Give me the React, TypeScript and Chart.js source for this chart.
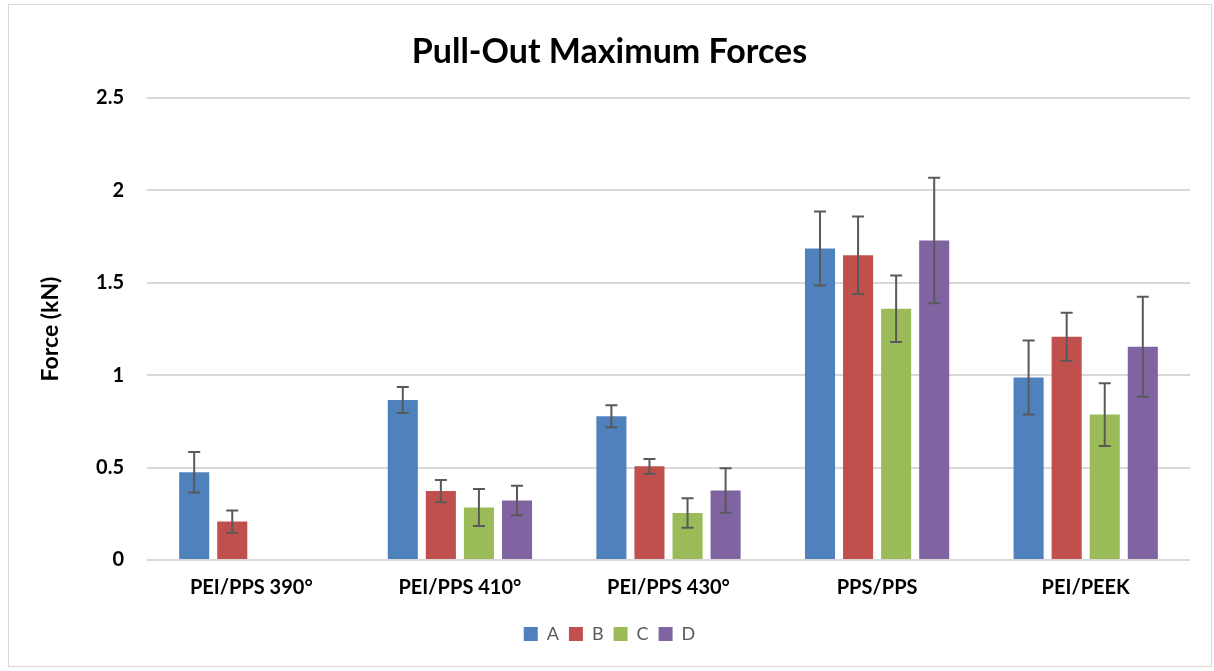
import React, { useEffect, useRef } from "react";
import { Chart, registerables } from "chart.js";

Chart.register(...registerables);

const categories = ["PEI/PPS 390°", "PEI/PPS 410°", "PEI/PPS 430°", "PPS/PPS", "PEI/PEEK"];
const seriesNames = ["A", "B", "C", "D"];
const valuesA = [0.475, 0.866, 0.778, 1.686, 0.988];
const valuesB = [0.208, 0.373, 0.507, 1.649, 1.208];
const valuesC = [null, 0.284, 0.254, 1.359, 0.787];
const valuesD = [null, 0.322, 0.376, 1.729, 1.154];
const errorsA = [0.11, 0.07, 0.06, 0.2, 0.2];
const errorsB = [0.06, 0.06, 0.04, 0.21, 0.13];
const errorsC = [null, 0.1, 0.08, 0.18, 0.17];
const errorsD = [null, 0.08, 0.12, 0.34, 0.27];
const yTicks = [0, 0.5, 1, 1.5, 2, 2.5];
const colors = ["#4F81BD", "#C0504D", "#9BBB59", "#8064A2"];

const FONT = "Lato, 'Open Sans', sans-serif";

const errorBarPlugin = {
  id: "errorBars",
  afterDatasetsDraw(chart: any) {
    const ctx = chart.ctx;
    const yScale = chart.scales.y;
    chart.data.datasets.forEach((ds: any, di: number) => {
      const meta = chart.getDatasetMeta(di);
      const errs = ds.errors as (number | null)[];
      meta.data.forEach((el: any, i: number) => {
        const v = ds.data[i];
        const e = errs[i];
        if (v == null || e == null) return;
        const x = el.x;
        const yTop = yScale.getPixelForValue(v + e);
        const yBot = yScale.getPixelForValue(v - e);
        ctx.save();
        ctx.strokeStyle = "#595959";
        ctx.lineWidth = 2;
        ctx.beginPath();
        ctx.moveTo(x, yTop);
        ctx.lineTo(x, yBot);
        ctx.moveTo(x - 6, yTop);
        ctx.lineTo(x + 6, yTop);
        ctx.moveTo(x - 6, yBot);
        ctx.lineTo(x + 6, yBot);
        ctx.stroke();
        ctx.restore();
      });
    });
  },
};

export default function App() {
  const ref = useRef<HTMLCanvasElement | null>(null);
  useEffect(() => {
    if (!ref.current) return;
    const allValues = [valuesA, valuesB, valuesC, valuesD];
    const allErrors = [errorsA, errorsB, errorsC, errorsD];
    const chart = new Chart(ref.current, {
      type: "bar",
      data: {
        labels: categories,
        datasets: seriesNames.map((name, i) => ({
          label: name,
          data: allValues[i],
          errors: allErrors[i],
          backgroundColor: colors[i],
          borderWidth: 0,
          categoryPercentage: 0.73,
          barPercentage: 0.79,
        })) as any,
      },
      options: {
        animation: false,
        responsive: false,
        maintainAspectRatio: false,
        layout: { padding: { left: 20, right: 21, top: 0, bottom: 13 } },
        plugins: {
          title: {
            display: true,
            text: "Pull-Out Maximum Forces",
            color: "#000000",
            font: { family: FONT, size: 34, weight: "bold" },
            padding: { top: 26.6, bottom: 25.6 },
          },
          legend: {
            position: "bottom",
            labels: {
              color: "#595959",
              font: { family: FONT, size: 18 },
              boxWidth: 14,
              boxHeight: 14,
              padding: 10,
            },
          },
          tooltip: { enabled: false },
        },
        scales: {
          x: {
            grid: { display: false },
            border: { display: false },
            ticks: {
              color: "#000000",
              font: { family: FONT, size: 20, weight: "bold" },
              padding: 8,
            },
            afterFit(scale: any) {
              scale.height = 55;
            },
          },
          y: {
            min: 0,
            max: 2.5,
            afterBuildTicks(scale: any) {
              scale.ticks = yTicks.map((v) => ({ value: v }));
            },
            grid: { color: "#d9d9d9", lineWidth: 2, drawTicks: false },
            border: { display: false },
            ticks: {
              color: "#000000",
              font: { family: FONT, size: 20, weight: "bold" },
              padding: 23,
              callback: (v: any) => String(v),
            },
            title: {
              display: true,
              text: "Force (kN)",
              color: "#000000",
              font: { family: FONT, size: 23, weight: "bold" },
              padding: { top: 8, bottom: 0 },
            },
            afterFit(scale: any) {
              scale.width = 118;
            },
          },
        },
      },
      plugins: [errorBarPlugin],
    });
    return () => chart.destroy();
  }, []);
  return (
    <div
      style={{
        position: "absolute",
        left: 8,
        top: 4,
        width: 1202,
        height: 661,
        border: "1px solid #d9d9d9",
        background: "#ffffff",
      }}
    >
      <canvas ref={ref} width={1202} height={661} style={{ display: "block" }} />
    </div>
  );
}
